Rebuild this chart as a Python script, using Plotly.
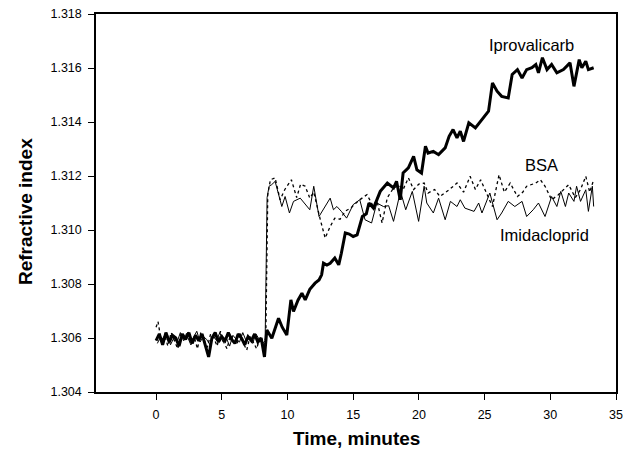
import plotly.graph_objects as go

# ---------------- data ----------------
ipro_t = [0.0, 0.25, 0.5, 0.75, 1.0, 1.25, 1.5, 1.75, 2.0, 2.25, 2.5, 2.75, 3.0, 3.25, 3.5, 3.75,
          4.0, 4.25, 4.5, 4.75, 5.0, 5.25, 5.5, 5.75, 6.0, 6.25, 6.5, 6.75, 7.0, 7.25, 7.5, 7.75,
          8.0, 8.25, 8.43, 8.81, 9.1, 9.32, 9.6, 9.95, 10.26, 10.46, 10.8, 11.1, 11.35, 11.7,
          12.1, 12.4, 12.6, 12.74, 13.0, 13.25, 13.6, 13.9, 14.1, 14.4, 14.7, 15.0, 15.3, 15.7,
          16.0, 16.2, 16.55, 17.06, 17.6, 18.07, 18.3, 18.58, 18.8, 19.2, 19.6, 19.85, 20.2,
          20.5, 20.7, 21.1, 21.5, 22.0, 22.3, 22.6, 22.9, 23.15, 23.4, 23.8, 24.3, 24.8, 25.3,
          25.6, 25.95, 26.3, 26.8, 27.1, 27.5, 27.85, 28.2, 28.6, 28.9, 29.1, 29.4, 29.75,
          30.1, 30.5, 31.0, 31.5, 31.8, 32.2, 32.4, 32.7, 32.9, 33.3]
ipro_v = [1.30590, 1.30615, 1.30575, 1.30620, 1.30585, 1.30610, 1.30600, 1.30570, 1.30615,
          1.30595, 1.30620, 1.30580, 1.30610, 1.30590, 1.30615, 1.30570, 1.30530, 1.30600,
          1.30620, 1.30585, 1.30605, 1.30590, 1.30620, 1.30595, 1.30580, 1.30615, 1.30600,
          1.30575, 1.30605, 1.30590, 1.30615, 1.30585, 1.30600, 1.30530, 1.30630, 1.30599,
          1.30640, 1.30673, 1.30640, 1.30611, 1.30741, 1.30698, 1.30740, 1.30766, 1.30741,
          1.30780, 1.30803, 1.30815, 1.30834, 1.30877, 1.30870, 1.30877, 1.30896, 1.30871,
          1.30914, 1.30989, 1.30985, 1.30976, 1.30982, 1.31050, 1.31060, 1.31100, 1.31081,
          1.31143, 1.31174, 1.31156, 1.31180, 1.31112, 1.31211, 1.31230, 1.31273, 1.31223,
          1.31211, 1.31310, 1.31285, 1.31291, 1.31279, 1.31304, 1.31347, 1.31372, 1.31341,
          1.31366, 1.31328, 1.31397, 1.31378, 1.31409, 1.31440, 1.31545, 1.31514, 1.31495,
          1.31489, 1.31576, 1.31594, 1.31563, 1.31594, 1.31601, 1.31613, 1.31582, 1.31638,
          1.31594, 1.31613, 1.31582, 1.31594, 1.31619, 1.31532, 1.31631, 1.31601, 1.31625,
          1.31594, 1.31601]

imid_t = [0.1, 0.35, 0.6, 0.85, 1.1, 1.35, 1.6, 1.85, 2.1, 2.35, 2.6, 2.85, 3.1, 3.35, 3.6,
          3.85, 4.1, 4.35, 4.6, 4.85, 5.1, 5.35, 5.6, 5.85, 6.1, 6.35, 6.6, 6.85, 7.1, 7.35,
          7.6, 7.85, 8.1, 8.3, 8.45, 8.6, 8.8, 9.06, 9.57, 9.82, 10.15, 10.46, 10.97, 11.7,
          12.0, 12.4, 12.7, 13.25, 13.5, 13.76, 14.1, 14.5, 15.0, 15.5, 15.9, 16.4, 16.8,
          17.3, 17.7, 18.07, 18.6, 19.0, 19.5, 19.98, 20.4, 20.6, 21.1, 21.5, 22.0, 22.4,
          22.9, 23.15, 23.5, 24.2, 24.55, 24.8, 25.4, 25.95, 26.3, 26.8, 27.3, 27.85, 28.2,
          28.7, 29.1, 29.6, 30.1, 30.5, 30.8, 31.15, 31.4, 31.8, 32.0, 32.3, 32.7, 32.9,
          33.2, 33.3]
imid_v = [1.30580, 1.30605, 1.30590, 1.30615, 1.30575, 1.30600, 1.30585, 1.30620, 1.30590,
          1.30610, 1.30580, 1.30600, 1.30625, 1.30585, 1.30605, 1.30595, 1.30575, 1.30610,
          1.30590, 1.30620, 1.30585, 1.30600, 1.30570, 1.30610, 1.30595, 1.30585, 1.30620,
          1.30590, 1.30605, 1.30580, 1.30615, 1.30595, 1.30580, 1.30590, 1.31120, 1.31162,
          1.31168, 1.31180, 1.31087, 1.31124, 1.31063, 1.31106, 1.31118, 1.31075, 1.31162,
          1.31050, 1.31075, 1.31118, 1.31075, 1.31087, 1.31069, 1.31044, 1.31094, 1.31112,
          1.31038, 1.31026, 1.31100, 1.31087, 1.31090, 1.31032, 1.31143, 1.31075, 1.31143,
          1.31032, 1.31162, 1.31100, 1.31063, 1.31118, 1.31038, 1.31106, 1.31087, 1.31112,
          1.31081, 1.31069, 1.31100, 1.31063, 1.31137, 1.31038, 1.31063, 1.31106, 1.31087,
          1.31106, 1.31050, 1.31075, 1.31100, 1.31050, 1.31124, 1.31087, 1.31143, 1.31087,
          1.31137, 1.31106, 1.31162, 1.31106, 1.31149, 1.31069, 1.31162, 1.31087]

bsa_t = [0.0, 0.15, 0.4, 0.65, 0.9, 1.15, 1.4, 1.65, 1.9, 2.15, 2.4, 2.65, 2.9, 3.15, 3.4,
         3.65, 3.9, 4.15, 4.4, 4.65, 4.9, 5.15, 5.4, 5.65, 5.9, 6.15, 6.4, 6.65, 6.9, 7.15,
         7.4, 7.65, 7.9, 8.15, 8.35, 8.5, 8.7, 9.06, 9.44, 9.8, 10.3, 10.7, 11.0, 11.35,
         11.7, 12.0, 12.5, 12.87, 13.25, 13.6, 14.0, 14.4, 14.8, 15.5, 16.05, 16.5, 16.8,
         17.2, 17.6, 18.0, 18.45, 18.8, 19.2, 19.6, 20.0, 20.4, 20.7, 21.2, 21.6, 22.3,
         22.9, 23.4, 23.9, 24.3, 24.7, 25.1, 25.6, 26.1, 26.5, 26.95, 27.5, 27.9, 28.2,
         28.9, 29.25, 29.6, 30.1, 30.6, 31.0, 31.4, 31.9, 32.3, 32.7, 33.0, 33.3]
bsa_v = [1.30640, 1.30661, 1.30585, 1.30610, 1.30570, 1.30620, 1.30590, 1.30560, 1.30615,
         1.30595, 1.30625, 1.30575, 1.30605, 1.30560, 1.30620, 1.30590, 1.30565, 1.30615,
         1.30600, 1.30570, 1.30625, 1.30585, 1.30560, 1.30610, 1.30590, 1.30575, 1.30620,
         1.30580, 1.30555, 1.30605, 1.30585, 1.30560, 1.30600, 1.30570, 1.30600, 1.31130,
         1.31186, 1.31193, 1.31112, 1.31150, 1.31186, 1.31120, 1.31170, 1.31162, 1.31118,
         1.31140, 1.31038, 1.30970, 1.31013, 1.31044, 1.31040, 1.31070, 1.31081, 1.31112,
         1.31131, 1.31090, 1.31110, 1.31026, 1.31120, 1.31150, 1.31168, 1.31150, 1.31193,
         1.31150, 1.31170, 1.31174, 1.31137, 1.31150, 1.31124, 1.31149, 1.31174, 1.31140,
         1.31199, 1.31150, 1.31186, 1.31140, 1.31087, 1.31205, 1.31140, 1.31174, 1.31124,
         1.31140, 1.31162, 1.31174, 1.31186, 1.31162, 1.31112, 1.31130, 1.31150, 1.31168,
         1.31120, 1.31150, 1.31199, 1.31140, 1.31186]

x_ticks = [0, 5, 10, 15, 20, 25, 30, 35]
y_ticks = [1.304, 1.306, 1.308, 1.310, 1.312, 1.314, 1.316, 1.318]

labels = ["Iprovalicarb", "BSA", "Imidacloprid"]
label_x = [28.6, 29.3, 29.55]
label_y = [1.31687, 1.31242, 1.30982]

FONT = "Arial, Liberation Sans, Helvetica, sans-serif"

fig = go.Figure()
fig.add_trace(go.Scatter(x=bsa_t, y=bsa_v, mode="lines", name="BSA",
                         line=dict(color="black", width=1.3, dash="dot")))
fig.add_trace(go.Scatter(x=imid_t, y=imid_v, mode="lines", name="Imidacloprid",
                         line=dict(color="black", width=1)))
fig.add_trace(go.Scatter(x=ipro_t, y=ipro_v, mode="lines", name="Iprovalicarb",
                         line=dict(color="black", width=3)))

for txt, xx, yy in zip(labels, label_x, label_y):
    fig.add_annotation(x=xx, y=yy, text=txt, showarrow=False,
                       font=dict(family=FONT, size=16.5, color="black"))

# axis titles placed as paper annotations
fig.add_annotation(xref="paper", yref="paper", x=0.5, y=-0.124, text="<b>Time, minutes</b>",
                   showarrow=False, xanchor="center", yanchor="middle",
                   font=dict(family=FONT, size=19, color="black"))
fig.add_annotation(xref="paper", yref="paper", x=-0.1365, y=0.476, text="<b>Refractive index</b>",
                   showarrow=False, xanchor="center", yanchor="middle", textangle=-90,
                   font=dict(family=FONT, size=19, color="black"))

fig.update_layout(
    width=617, height=440,
    margin=dict(l=88, r=9, t=6, b=56, autoexpand=False),
    paper_bgcolor="white", plot_bgcolor="white",
    showlegend=False,
    font=dict(family=FONT, color="black"),
)
fig.update_xaxes(
    range=[-4.57, 35], tickvals=x_ticks, ticktext=[str(v) for v in x_ticks],
    showgrid=False, zeroline=False, showline=True, linecolor="black", linewidth=1.5,
    mirror=True, ticks="outside", ticklen=6, tickwidth=1.2, tickcolor="black",
    tickfont=dict(size=12.5, family=FONT), ticklabelstandoff=4, ticklabeloverflow="allow",
)
fig.update_yaxes(
    range=[1.304, 1.318], tickvals=y_ticks, ticktext=["%.3f" % v for v in y_ticks],
    showgrid=False, zeroline=False, showline=True, linecolor="black", linewidth=1.5,
    mirror=True, ticks="outside", ticklen=6, tickwidth=1.2, tickcolor="black",
    tickfont=dict(size=12.5, family=FONT), ticklabelstandoff=4, ticklabeloverflow="allow",
)

fig.write_html("out.html")
